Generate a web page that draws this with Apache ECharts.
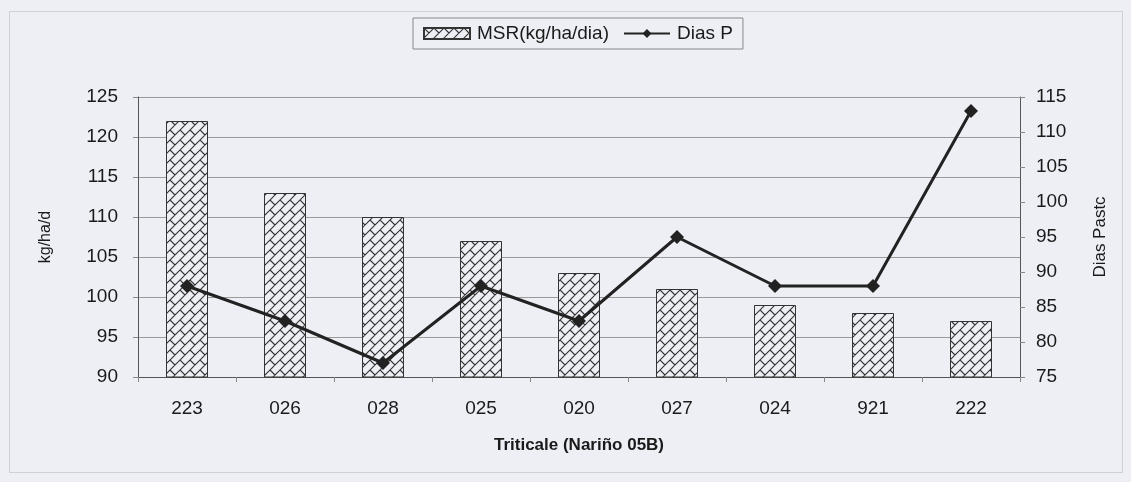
<!DOCTYPE html>
<html>
<head>
<meta charset="utf-8">
<script src="https://cdn.jsdelivr.net/npm/echarts@6/dist/echarts.min.js"></script>
<style>
  html, body { margin: 0; padding: 0; background: #eeeff5; }
  #box { position: absolute; left: 9px; top: 11px; width: 1112px; height: 460px; border: 1px solid #cfd1d6; }
  #chart { width: 1131px; height: 482px; }
</style>
</head>
<body>
<div id="box"></div>
<div id="chart"></div>
<script>
// datos
var categorias = ['223', '026', '028', '025', '020', '027', '024', '921', '222'];
var msr = [122, 113, 110, 107, 103, 101, 99, 98, 97];
var diasPasto = [88, 83, 77, 88, 83, 95, 88, 88, 113];

// trama de ladrillo diagonal para las barras (baldosa 20x20)
function hatch () {
  var c = document.createElement('canvas')
  c.width = 20; c.height = 20
  var ctx = c.getContext('2d')
  ctx.fillStyle = '#eeeff5'
  ctx.fillRect(0, 0, 20, 20)
  ctx.strokeStyle = '#333'
  ctx.lineWidth = 1.1
  ctx.beginPath()
  // lineas "/"  (x + y = u)
  for (var u = -20; u <= 60; u += 10) {
    ctx.moveTo(-5, u + 5); ctx.lineTo(25, u - 25)
  }
  // juntas "\"  (x - y = k) entre lineas, alternadas
  for (var s = -40; s <= 60; s += 10) {
    var off = ((s % 20) + 20) % 20
    for (var k = -40 + off; k <= 60; k += 20) {
      ctx.moveTo((k + s) / 2, (s - k) / 2)
      ctx.lineTo((k + s + 10) / 2, (s + 10 - k) / 2)
    }
  }
  ctx.stroke()
  return c
}

var chart = echarts.init(document.getElementById('chart'))
var font = 'Liberation Sans, Arial, sans-serif'
var option = {
  backgroundColor: 'transparent',
  textStyle: { fontFamily: font },
  legend: {
    top: 18,
    left: 413,
    itemGap: 14,
    padding: [6, 10],
    borderColor: '#888',
    borderWidth: 1,
    itemWidth: 46,
    itemHeight: 11,
    textStyle: { fontSize: 19, color: '#1a1a1a', fontFamily: font, padding: [0, 0, 0, 2] },
    data: [
      { name: 'MSR(kg/ha/dia)', icon: 'rect' },
      { name: 'Dias P' }
    ]
  },
  grid: { left: 138, right: 111, top: 97, bottom: 105 },
  xAxis: {
    type: 'category',
    data: categorias,
    name: 'Triticale (Nariño 05B)',
    nameLocation: 'middle',
    nameGap: 60,
    nameTextStyle: { fontSize: 17, fontWeight: 'bold', color: '#1a1a1a' },
    axisLine: { lineStyle: { color: '#555' } },
    axisTick: { show: true, length: 5, lineStyle: { color: '#888' } },
    axisLabel: { fontSize: 19, color: '#1a1a1a', margin: 22 }
  },
  yAxis: [
    {
      type: 'value',
      min: 90, max: 125, interval: 5,
      name: 'kg/ha/d',
      nameLocation: 'middle',
      nameRotate: 90,
      nameGap: 84,
      nameTextStyle: { fontSize: 16, color: '#1a1a1a' },
      axisLine: { show: true, lineStyle: { color: '#555' } },
      axisTick: { show: true, length: 5, lineStyle: { color: '#888' } },
      axisLabel: { fontSize: 19, color: '#1a1a1a', margin: 20 },
      splitLine: { lineStyle: { color: '#9a9a9a' } }
    },
    {
      type: 'value',
      min: 75, max: 115, interval: 5,
      name: 'Dias Pastc',
      nameLocation: 'middle',
      nameRotate: 90,
      nameGap: 72,
      nameTextStyle: { fontSize: 17, color: '#1a1a1a' },
      axisLine: { show: true, lineStyle: { color: '#555' } },
      axisTick: { show: true, length: 5, lineStyle: { color: '#888' } },
      axisLabel: { fontSize: 19, color: '#1a1a1a', margin: 16 },
      splitLine: { show: false }
    }
  ],
  series: [
    {
      name: 'MSR(kg/ha/dia)',
      type: 'bar',
      data: msr,
      barWidth: 42,
      itemStyle: {
        color: { image: hatch(), repeat: 'repeat' },
        borderColor: '#333',
        borderWidth: 1
      }
    },
    {
      name: 'Dias P',
      type: 'line',
      yAxisIndex: 1,
      data: diasPasto,
      symbol: 'diamond',
      symbolSize: 14,
      lineStyle: { color: '#222', width: 3 },
      itemStyle: { color: '#222' }
    }
  ]
}
chart.setOption(option)
window.addEventListener('resize', function () {
  chart.resize()
})
</script>
</body>
</html>
